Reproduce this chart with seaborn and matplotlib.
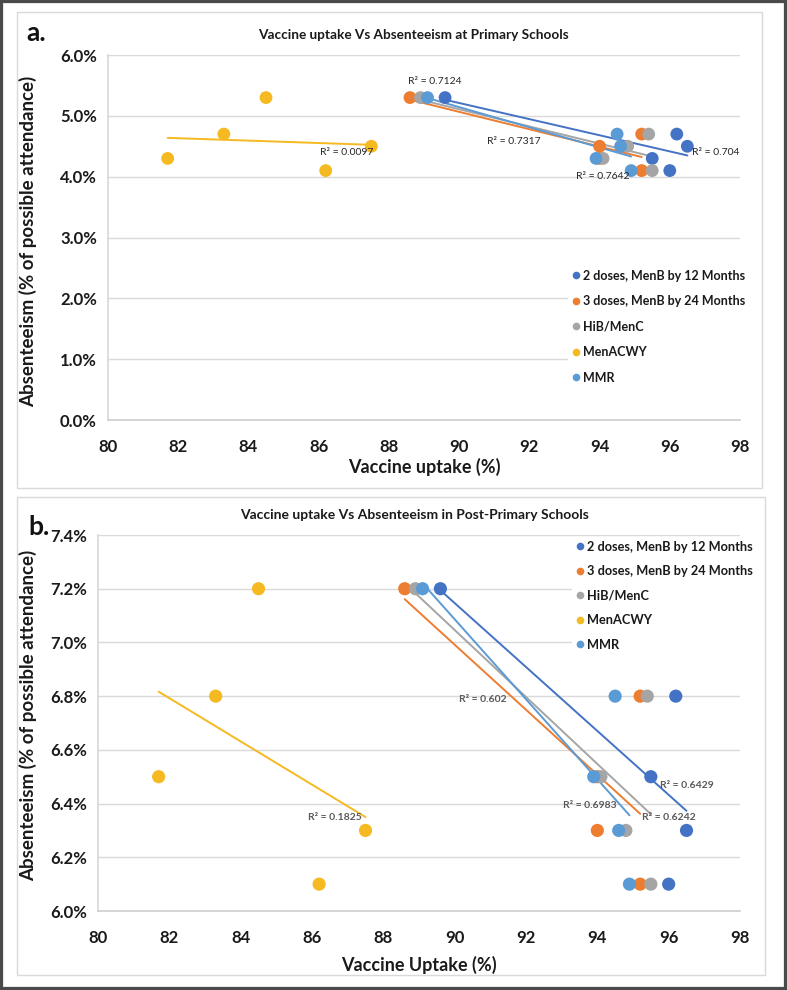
import numpy as np
import pandas as pd
import seaborn as sns
import matplotlib
matplotlib.use("Agg")
import matplotlib.pyplot as plt
from matplotlib.patches import Rectangle
from matplotlib.lines import Line2D
from matplotlib.ticker import FuncFormatter, MultipleLocator

# ---------------- data ----------------
series = ["2 doses, MenB by 12 Months", "3 doses, MenB by 24 Months",
          "HiB/MenC", "MenACWY", "MMR"]
colors = ["#4472C4", "#ED7D31", "#A5A5A5", "#F5B921", "#5B9BD5"]

# vaccine uptake (%) for five periods, per vaccine
uptake_menb2 = [89.6, 96.2, 96.5, 95.5, 96.0]
uptake_menb3 = [88.6, 95.2, 94.0, 94.0, 95.2]
uptake_hib = [88.9, 95.4, 94.8, 94.1, 95.5]
uptake_acwy = [84.5, 83.3, 87.5, 81.7, 86.2]
uptake_mmr = [89.1, 94.5, 94.6, 93.9, 94.9]

# absenteeism (% of possible attendance) for the same five periods
absent_primary = [5.3, 4.7, 4.5, 4.3, 4.1]
absent_post = [7.2, 6.8, 6.3, 6.5, 6.1]

r2_primary = ["0.704", "0.7317", "0.7124", "0.0097", "0.7642"]
r2_post = ["0.6429", "0.602", "0.6242", "0.1825", "0.6983"]

x_ticks = [80, 82, 84, 86, 88, 90, 92, 94, 96, 98]

uptakes = [uptake_menb2, uptake_menb3, uptake_hib, uptake_acwy, uptake_mmr]
rows = []
for s, up in zip(series, uptakes):
    for i, u in enumerate(up):
        rows.append({"series": s, "uptake": u,
                     "primary": absent_primary[i], "post": absent_post[i]})
df = pd.DataFrame(rows)

# ---------------- style ----------------
sns.set_theme(style="white")
plt.rcParams["font.family"] = ["Lato", "DejaVu Sans"]

W, H = 787, 990
fig = plt.figure(figsize=(W / 100, H / 100), dpi=100)

def fx(px):
    return px / W

def fy(py):
    return 1 - py / H

# frames
fig.patches.append(Rectangle((0, 0), 1, 1, transform=fig.transFigure,
                             fill=False, edgecolor="#4a4a4a", linewidth=4.5))
fig.patches.append(Rectangle((fx(17), fy(488)), fx(762) - fx(17), fy(12) - fy(488),
                             transform=fig.transFigure, fill=False,
                             edgecolor="#d9d9d9", linewidth=1))
fig.patches.append(Rectangle((fx(17), fy(975)), fx(765) - fx(17), fy(497) - fy(975),
                             transform=fig.transFigure, fill=False,
                             edgecolor="#d9d9d9", linewidth=1))

ax_a = fig.add_axes([fx(108), fy(420), fx(740) - fx(108), fy(55) - fy(420)])
ax_b = fig.add_axes([fx(98), fy(911), fx(740) - fx(98), fy(535) - fy(911)])

def style_axes(ax, ylim, ystep, ylab, xlab):
    ax.set_xlim(80, 98)
    ax.set_xticks(x_ticks)
    ax.set_ylim(*ylim)
    ax.yaxis.set_major_locator(MultipleLocator(ystep))
    ax.yaxis.set_major_formatter(FuncFormatter(lambda v, p: f"{v:.1f}%"))
    ax.grid(axis="y", color="#d9d9d9", linewidth=1)
    ax.grid(axis="x", visible=False)
    ax.set_axisbelow(True)
    for side in ["top", "right"]:
        ax.spines[side].set_visible(False)
    ax.spines["left"].set_color("#d9d9d9")
    ax.spines["bottom"].set_color("#d0d0d0")
    ax.tick_params(axis="both", length=0, labelsize=12, colors="#1a1a1a")
    ax.tick_params(axis="x", pad=14)
    ax.tick_params(axis="y", pad=8)
    for lab in ax.get_xticklabels() + ax.get_yticklabels():
        lab.set_fontweight("bold")
    ax.set_ylabel(ylab, fontsize=13.5, fontweight="bold", color="#1a1a1a")
    ax.set_xlabel(xlab, fontsize=13, fontweight="bold", color="#1a1a1a")

def draw(ax, ycol, s_size):
    for s, c in zip(series, colors):
        sub = df[df["series"] == s]
        sns.regplot(data=sub, x="uptake", y=ycol, ax=ax, scatter=False,
                    ci=None, truncate=True, color=c,
                    line_kws=dict(linewidth=1.4, zorder=2))
    sns.scatterplot(data=df, x="uptake", y=ycol, hue="series",
                    hue_order=series, palette=colors, s=s_size,
                    edgecolor="none", ax=ax, legend=False, zorder=3)

draw(ax_a, "primary", 85)
draw(ax_b, "post", 90)

style_axes(ax_a, (0, 6), 1.0, "Absenteeism (% of possible attendance)",
           "Vaccine uptake (%)")
style_axes(ax_b, (6.0, 7.4), 0.2, "Absenteeism (% of possible attendance)",
           "Vaccine Uptake (%)")
ax_a.yaxis.set_label_coords(-0.112, 0.49)
ax_b.yaxis.set_label_coords(-0.095, 0.52)
ax_a.xaxis.set_label_coords(0.5, -0.105)
ax_b.xaxis.set_label_coords(0.5, -0.12)

# R² labels
pos_a = [(97.3, 4.39), (91.55, 4.58), (89.3, 5.56), (86.8, 4.40), (94.1, 4.01)]
for (x, y), r in zip(pos_a, r2_primary):
    ax_a.text(x, y, f"R² = {r}", fontsize=7.5, color="#262626",
              ha="center", va="center", zorder=5)
pos_b = [(96.5, 6.466), (90.8, 6.786), (96.0, 6.347), (86.65, 6.347), (93.8, 6.392)]
for (x, y), r in zip(pos_b, r2_post):
    ax_b.text(x, y, f"R² = {r}", fontsize=7.5, color="#595959",
              ha="center", va="center", fontweight="bold", zorder=5)

# legends
handles = [Line2D([], [], marker="o", linestyle="none", markersize=5.5,
                  markerfacecolor=c, markeredgecolor="none") for c in colors]

def add_legend(x_px, y_px, spacing, size):
    leg = fig.legend(handles, series, loc="upper left",
                     bbox_to_anchor=(fx(x_px), fy(y_px)),
                     bbox_transform=fig.transFigure, frameon=True,
                     facecolor="white", edgecolor="none", framealpha=1,
                     prop=dict(size=size, weight="bold"), handlelength=0.6,
                     handletextpad=0.3, labelspacing=spacing,
                     borderpad=0.3, borderaxespad=0)
    for t in leg.get_texts():
        t.set_color("#1a1a1a")
    return leg

add_legend(568, 266, 1.08, 9)
add_legend(572, 537, 0.98, 9.2)

# titles and panel letters
fig.text(fx(413), fy(35), "Vaccine uptake Vs Absenteeism at Primary Schools",
         ha="center", va="center", fontsize=9.8, fontweight="bold", color="#1a1a1a")
fig.text(fx(415), fy(515), "Vaccine uptake Vs Absenteeism in Post-Primary Schools",
         ha="center", va="center", fontsize=10, fontweight="bold", color="#1a1a1a")
fig.text(fx(26), fy(33), "a.", ha="left", va="center", fontsize=19,
         fontweight="bold", color="#111111")
fig.text(fx(28), fy(527), "b.", ha="left", va="center", fontsize=19,
         fontweight="bold", color="#111111")

fig.savefig("out.png", dpi=100)
